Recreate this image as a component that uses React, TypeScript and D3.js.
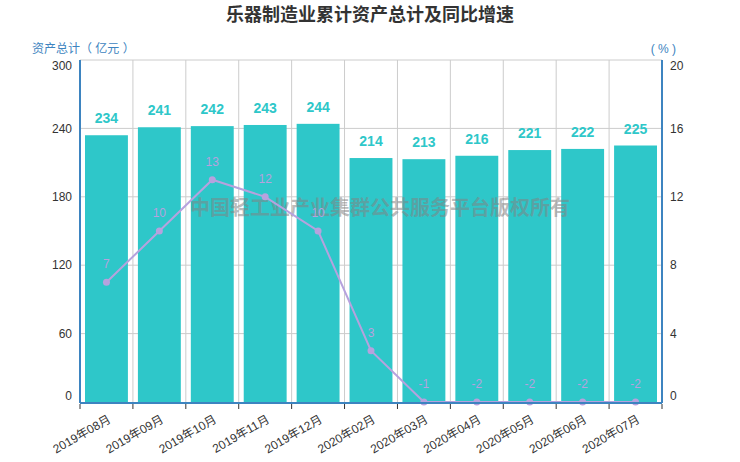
import { useRef, useEffect } from 'react'
import * as d3 from 'd3'

const categories = [
  '2019年08月', '2019年09月', '2019年10月', '2019年11月', '2019年12月',
  '2020年02月', '2020年03月', '2020年04月', '2020年05月', '2020年06月', '2020年07月',
]
const assets = [234, 241, 242, 243, 244, 214, 213, 216, 221, 222, 225]
const growth = [7, 10, 13, 12, 10, 3, -1, -2, -2, -2, -2]
const leftTicks = [0, 60, 120, 180, 240, 300]
const rightTicks = [0, 4, 8, 12, 16, 20]

const FONT = '"Liberation Sans", Arial, "Noto Sans CJK SC", sans-serif'
const BAR = '#2ec7c9'
const LINE = '#b6a2de'
const AXIS = '#3d84c0'

export default function App() {
  const svgRef = useRef<SVGSVGElement>(null)

  useEffect(() => {
    if (!svgRef.current) return
    const w = 740
    const h = 462
    const margin = { top: 60, right: 78, bottom: 60, left: 80 }
    const innerW = w - margin.left - margin.right
    const innerH = 402 - margin.top

    const svg = d3.select(svgRef.current)
    svg.selectAll('*').remove()
    svg.attr('width', w).attr('height', h)

    // Title
    svg.append('text')
      .attr('x', 370).attr('y', 21)
      .attr('text-anchor', 'middle')
      .attr('font-family', FONT).attr('font-size', 18).attr('font-weight', 'bold')
      .attr('fill', '#333').text('乐器制造业累计资产总计及同比增速')

    // Axis names
    svg.append('text')
      .attr('x', 32).attr('y', 53)
      .attr('font-family', FONT).attr('font-size', 12)
      .attr('fill', AXIS).text('资产总计（ 亿元 ）')
    svg.append('text')
      .attr('x', 676).attr('y', 53).attr('text-anchor', 'end')
      .attr('font-family', FONT).attr('font-size', 12)
      .attr('fill', AXIS).text('( % )')

    const g = svg.append('g').attr('transform', `translate(${margin.left},${margin.top})`)

    const x = d3.scaleBand().domain(categories).range([0, innerW]).paddingInner(0).paddingOuter(0)
    const yLeft = d3.scaleLinear().domain([0, 300]).range([innerH, 0])
    const yRight = d3.scaleLinear().domain([0, 20]).range([innerH, 0]).clamp(true)

    // Horizontal grid
    g.selectAll('.hgrid')
      .data(leftTicks.slice(1))
      .join('line')
      .attr('x1', 0).attr('x2', innerW)
      .attr('y1', (d) => yLeft(d)).attr('y2', (d) => yLeft(d))
      .attr('stroke', '#ccc').attr('stroke-width', 1)

    // Vertical grid at category boundaries
    g.selectAll('.vgrid')
      .data(categories.slice(1))
      .join('line')
      .attr('x1', (d) => x(d) ?? 0).attr('x2', (d) => x(d) ?? 0)
      .attr('y1', 0).attr('y2', innerH)
      .attr('stroke', '#ccc').attr('stroke-width', 1)

    // Bars
    const barPad = 5
    g.selectAll('.bar')
      .data(assets)
      .join('rect')
      .attr('x', (_, i) => (x(categories[i]) ?? 0) + barPad)
      .attr('y', (d) => yLeft(d))
      .attr('width', x.bandwidth() - barPad * 2)
      .attr('height', (d) => innerH - yLeft(d))
      .attr('fill', BAR)

    // Bar labels
    g.selectAll('.barlabel')
      .data(assets)
      .join('text')
      .attr('x', (_, i) => (x(categories[i]) ?? 0) + x.bandwidth() / 2)
      .attr('y', (d) => yLeft(d) - 12)
      .attr('text-anchor', 'middle')
      .attr('font-family', FONT).attr('font-size', 14).attr('font-weight', 'bold')
      .attr('fill', BAR)
      .text((d) => d)

    // Watermark
    g.append('text')
      .attr('x', 380 - margin.left).attr('y', 215 - margin.top)
      .attr('text-anchor', 'middle')
      .attr('font-family', FONT).attr('font-size', 20).attr('font-weight', 'bold')
      .attr('fill', 'rgba(130,130,130,0.55)')
      .text('中国轻工业产业集群公共服务平台版权所有')

    // Line
    const cx = (i: number) => (x(categories[i]) ?? 0) + x.bandwidth() / 2
    const line = d3.line<number>().x((_, i) => cx(i)).y((d) => yRight(d))
    g.append('path')
      .datum(growth)
      .attr('d', line)
      .attr('fill', 'none')
      .attr('stroke', LINE)
      .attr('stroke-width', 2)

    g.selectAll('.dot')
      .data(growth)
      .join('circle')
      .attr('cx', (_, i) => cx(i))
      .attr('cy', (d) => yRight(d))
      .attr('r', 3.5)
      .attr('fill', LINE)

    g.selectAll('.linelabel')
      .data(growth)
      .join('text')
      .attr('x', (_, i) => cx(i))
      .attr('y', (d) => yRight(d) - 14)
      .attr('text-anchor', 'middle')
      .attr('font-family', FONT).attr('font-size', 12)
      .attr('fill', LINE)
      .text((d) => d)

    // Left axis
    g.append('line')
      .attr('x1', 0).attr('x2', 0).attr('y1', 0).attr('y2', innerH + 1)
      .attr('stroke', AXIS).attr('stroke-width', 2)
    g.selectAll('.ltick')
      .data(leftTicks)
      .join('text')
      .attr('x', -8)
      .attr('y', (d) => yLeft(d) + (d === 300 ? 6 : d === 0 ? -6 : 0))
      .attr('dy', '0.35em')
      .attr('text-anchor', 'end')
      .attr('font-family', FONT).attr('font-size', 12)
      .attr('fill', '#333')
      .text((d) => d)

    // Right axis
    g.append('line')
      .attr('x1', innerW).attr('x2', innerW).attr('y1', 0).attr('y2', innerH + 1)
      .attr('stroke', AXIS).attr('stroke-width', 2)
    g.selectAll('.rtick')
      .data(rightTicks)
      .join('text')
      .attr('x', innerW + 8)
      .attr('y', (d) => yRight(d) + (d === 20 ? 6 : d === 0 ? -6 : 0))
      .attr('dy', '0.35em')
      .attr('text-anchor', 'start')
      .attr('font-family', FONT).attr('font-size', 12)
      .attr('fill', '#333')
      .text((d) => d)

    // X axis
    g.append('line')
      .attr('x1', 0).attr('x2', innerW).attr('y1', innerH + 1).attr('y2', innerH + 1)
      .attr('stroke', AXIS).attr('stroke-width', 2)
    const boundaries = [...categories.map((c) => x(c) ?? 0), innerW]
    g.selectAll('.xtick')
      .data(boundaries)
      .join('line')
      .attr('x1', (d) => d).attr('x2', (d) => d)
      .attr('y1', innerH + 2).attr('y2', innerH + 7)
      .attr('stroke', '#333').attr('stroke-width', 1)
    g.selectAll('.xlabel')
      .data(categories)
      .join('text')
      .attr('transform', (d) => `translate(${(x(d) ?? 0) + x.bandwidth() / 2 + 3},${innerH + 16}) rotate(-30)`)
      .attr('dy', '0.35em')
      .attr('text-anchor', 'end')
      .attr('font-family', FONT).attr('font-size', 12)
      .attr('fill', '#333')
      .text((d) => d)
  }, [])

  return (
    <div>
      <style>{'body{margin:0}'}</style>
      <svg ref={svgRef} style={{ display: 'block' }} />
    </div>
  )
}
